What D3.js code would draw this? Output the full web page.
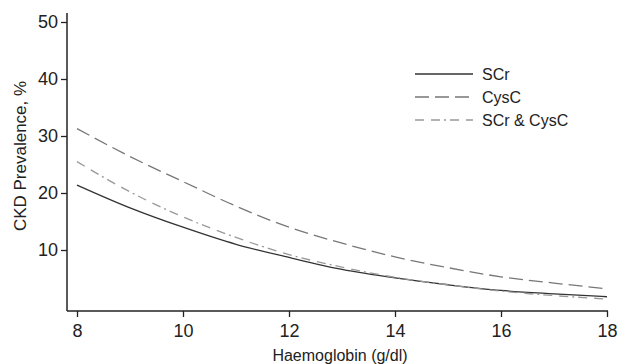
<!DOCTYPE html>
<html>
<head>
<meta charset="utf-8">
<script src="https://cdn.jsdelivr.net/npm/d3@7"></script>
<style>
  body { margin: 0; background: #fff; }
  text { font-family: "Liberation Sans", Arial, sans-serif; fill: #222; }
</style>
</head>
<body>
<div id="container"></div>
<script>
// values
const haemoglobin = [8, 9, 10, 11, 12, 13, 14, 15, 16, 17, 18];
const scr = [21.4, 17.4, 14.0, 11.0, 8.7, 6.6, 5.1, 3.9, 2.9, 2.3, 1.8];
const cysc = [31.3, 26.4, 22.0, 17.7, 14.0, 11.2, 8.8, 6.9, 5.3, 4.2, 3.2];
const scrCysc = [25.5, 20.2, 15.8, 12.2, 9.2, 7.0, 5.2, 3.9, 2.8, 2.0, 1.4];
const xTicks = [8, 10, 12, 14, 16, 18];
const yTicks = [10, 20, 30, 40, 50];

const series = [
  { name: 'SCr', values: scr, color: '#333', dash: null },
  { name: 'CysC', values: cysc, color: '#777', dash: '14,6' },
  { name: 'SCr & CysC', values: scrCysc, color: '#999', dash: '9,7,9,4,2,4' }
];

const width = 618, height = 364;
const svg = d3.select('#container').append('svg')
  .attr('width', width).attr('height', height);

const x = d3.scaleLinear().domain([8, 18]).range([77, 607]);
const y = d3.scaleLinear().domain([0, 50]).range([307, 22]);

const axisLeft = 67, axisBottom = 311;

// x axis
const gx = svg.append('g').attr('transform', `translate(0,${axisBottom})`)
  .call(d3.axisBottom(x).tickValues(xTicks).tickSize(6).tickPadding(7).tickFormat(d3.format('d')));
gx.select('.domain').remove();
gx.selectAll('line').attr('stroke', '#222').attr('stroke-width', 1.3);
gx.selectAll('text').style('font-size', '18px').attr('fill', '#222');

// y axis
const gy = svg.append('g').attr('transform', `translate(${axisLeft},0)`)
  .call(d3.axisLeft(y).tickValues(yTicks).tickSize(6).tickPadding(3));
gy.select('.domain').remove();
gy.selectAll('line').attr('stroke', '#222').attr('stroke-width', 1.3);
gy.selectAll('text').style('font-size', '18px').attr('fill', '#222');

// axis lines
svg.append('line')
  .attr('x1', axisLeft).attr('x2', axisLeft).attr('y1', 13).attr('y2', axisBottom)
  .attr('stroke', '#222').attr('stroke-width', 1.5);
svg.append('line')
  .attr('x1', axisLeft).attr('x2', 608).attr('y1', axisBottom).attr('y2', axisBottom)
  .attr('stroke', '#222').attr('stroke-width', 1.5);

// titles
svg.append('text')
  .attr('x', 340).attr('y', 361).attr('text-anchor', 'middle')
  .style('font-size', '16px').text('Haemoglobin (g/dl)');
svg.append('text')
  .attr('transform', 'translate(26,156) rotate(-90)').attr('text-anchor', 'middle')
  .style('font-size', '17px').text('CKD Prevalence, %');

// curves
const line = d3.line()
  .x((d, i) => x(haemoglobin[i]))
  .y(d => y(d))
  .curve(d3.curveMonotoneX);

series.forEach(s => {
  svg.append('path')
    .datum(s.values)
    .attr('d', line)
    .attr('fill', 'none')
    .attr('stroke', s.color)
    .attr('stroke-width', 1.3)
    .attr('stroke-dasharray', s.dash);
});

// legend
const legend = svg.append('g').attr('transform', 'translate(415,74)');
series.forEach((s, i) => {
  const g = legend.append('g').attr('transform', `translate(0,${i * 23})`);
  g.append('line')
    .attr('x1', 0).attr('x2', 58).attr('y1', 0).attr('y2', 0)
    .attr('stroke', s.color).attr('stroke-width', 1.3)
    .attr('stroke-dasharray', s.dash);
  g.append('text')
    .attr('x', 67).attr('y', 6)
    .style('font-size', '16px').text(s.name);
});
</script>
</body>
</html>
